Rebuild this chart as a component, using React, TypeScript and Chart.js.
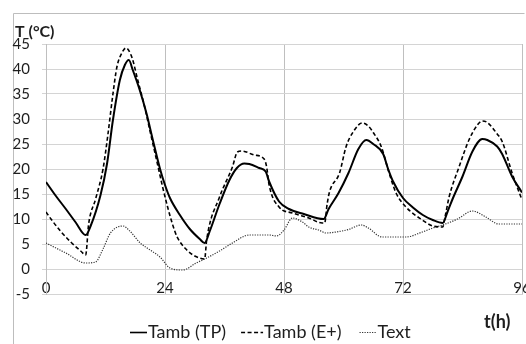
import React, { useEffect, useRef } from "react";
import { Chart, registerables } from "chart.js";

Chart.register(...registerables);

// ---- data ----
const xTickHours = [0, 24, 48, 72, 96];
const yMin = -5;
const yMax = 45;
const yStep = 5;

const tpHours = [0, 2, 4, 6, 8, 9, 11, 12.3, 13.5, 14.9, 15.9, 16.7, 17.5, 18.9, 20.3, 21.5, 23, 24, 25, 27, 29, 31, 32, 33, 35, 37, 38.5, 40, 41, 43, 44.3, 45, 47, 49, 52, 56, 57, 59, 61, 63, 64.6, 66, 68, 69, 70, 72, 74, 76, 78, 80, 81, 82, 84, 86, 88, 89, 91, 92, 94, 96];
const tpValues = [17.4, 14.6, 12.0, 9.3, 6.8, 8.6, 14.8, 21, 29.8, 37.8, 40.8, 41.8, 39.8, 35.8, 31, 26, 20, 16.8, 14.2, 10.8, 8, 6, 5.2, 7.5, 13, 17.8, 20.2, 21.1, 21, 20.2, 19.5, 17.5, 13.5, 12, 11, 10, 12, 15.2, 19.2, 24, 25.8, 25, 23, 20, 17.5, 14.2, 12.3, 10.8, 9.8, 9.2, 11.5, 14, 18.5, 23.5, 26, 25.8, 24.5, 23, 18.5, 15.3];

const epHours = [0, 1, 3, 5, 7, 8, 8.6, 10, 11.5, 12.5, 13.5, 14.3, 15.3, 16.1, 17.3, 18.5, 19.9, 21, 22.3, 23.5, 24.5, 25.5, 26.4, 28.4, 30, 32, 32.4, 35, 37.6, 38.6, 39.5, 42, 44, 44.5, 45, 47, 49.7, 53, 55.7, 56.2, 56.7, 57.2, 59.2, 60.5, 62, 63.8, 65, 66, 67.6, 69.2, 70.6, 72.6, 75.9, 78, 80, 80.5, 81.3, 83.3, 85.3, 87, 88, 89, 91, 92, 94, 96];
const epValues = [11.4, 10, 7.5, 5.4, 3.6, 2.8, 9, 14, 20, 27, 35, 40.4, 43.2, 44.2, 42.4, 37.8, 32.4, 27.5, 21.8, 16.5, 12.5, 9, 6.5, 3.8, 2.6, 2.0, 5.8, 14.4, 20.4, 23.4, 23.6, 22.8, 22, 20.4, 16.8, 12.4, 11.2, 10.2, 9.2, 9.2, 13, 15.5, 19.2, 24.4, 27.5, 29.2, 28.6, 27.3, 24.5, 19.2, 15.2, 12.4, 9.8, 8.6, 8.4, 10.5, 14.4, 20.4, 25.8, 28.8, 29.6, 29.3, 27, 25.5, 19.2, 13.8];

const textHours = [0, 4, 8, 10, 11.5, 13, 15.5, 17, 19, 21, 23, 25, 27.6, 30.3, 32.4, 35, 37.6, 41, 45, 46.5, 48, 49.7, 51.7, 53, 55, 56.5, 58.5, 61, 63.6, 65, 67.8, 72.6, 75.9, 78, 80, 83, 86, 88.7, 91.3, 96];
const textValues = [5.2, 3.2, 1.2, 1.4, 4, 7.2, 8.6, 7.5, 5.2, 3.8, 2.4, 0.2, -0.2, 1.2, 2.2, 3.6, 5.2, 6.8, 6.8, 6.6, 7.8, 10.2, 9.4, 8.4, 7.8, 7.2, 7.4, 7.9, 8.8, 8.2, 6.4, 6.4, 7.4, 8.2, 8.8, 10, 11.6, 10.4, 9, 9];

const seriesLabels = ["Tamb (TP)", "Tamb (E+)", "Text"];
const yTitle = "T (°C)";
const xTitle = "t(h)";

const FONT = "Lato, 'Open Sans', sans-serif";
const TEXT_COLOR = "#1e1e1e";

const toPoints = (xs: number[], ys: number[]) => xs.map((x, i) => ({ x, y: ys[i] }));

const decorPlugin = {
  id: "decor",
  beforeDraw(chart: any) {
    const ctx = chart.ctx;
    ctx.save();
    ctx.fillStyle = "#ffffff";
    ctx.fillRect(0, 0, chart.width, chart.height);
    ctx.strokeStyle = "#bdbdbd";
    ctx.lineWidth = 1;
    ctx.beginPath();
    ctx.moveTo(13.5, chart.height + 2);
    ctx.lineTo(13.5, 13.5);
    ctx.lineTo(chart.width - 1.5, 13.5);
    ctx.stroke();
    ctx.restore();
  },
  afterDraw(chart: any) {
    const ctx = chart.ctx;
    ctx.save();
    ctx.fillStyle = TEXT_COLOR;
    ctx.textBaseline = "alphabetic";
    ctx.textAlign = "left";
    ctx.font = `bold 16px ${FONT}`;
    ctx.fillText(yTitle, 15, 37);
    ctx.font = `bold 18px ${FONT}`;
    ctx.fillText(xTitle, 484, 328);

    // legend
    ctx.font = `18px ${FONT}`;
    let x = 130;
    const ly = 332.5;
    const gaps = [15, 18, 0];
    chart.data.datasets.forEach((ds: any, i: number) => {
      const w = i === 1 ? 22 : 17;
      ctx.save();
      ctx.strokeStyle = ds.borderColor;
      ctx.lineWidth = Math.min(ds.borderWidth, 1.6);
      ctx.setLineDash(ds.borderDash || []);
      ctx.beginPath();
      ctx.moveTo(x, ly);
      ctx.lineTo(x + w, ly);
      ctx.stroke();
      ctx.restore();
      ctx.fillStyle = TEXT_COLOR;
      ctx.fillText(ds.label, x + w + 1, 338);
      x += w + 1 + ctx.measureText(ds.label).width + gaps[i];
    });
    ctx.restore();
  },
};

export default function App() {
  const canvasRef = useRef<HTMLCanvasElement | null>(null);

  useEffect(() => {
    document.body.style.margin = "0";
    const canvas = canvasRef.current;
    if (!canvas) return;
    const chart = new Chart(canvas, {
      type: "line",
      data: {
        datasets: [
          {
            label: seriesLabels[0],
            data: toPoints(tpHours, tpValues),
            borderColor: "#000000",
            borderWidth: 2,
            pointRadius: 0,
            cubicInterpolationMode: "monotone",
            fill: false,
          },
          {
            label: seriesLabels[1],
            data: toPoints(epHours, epValues),
            borderColor: "#000000",
            borderWidth: 1.6,
            borderDash: [4, 2.5],
            pointRadius: 0,
            cubicInterpolationMode: "monotone",
            fill: false,
          },
          {
            label: seriesLabels[2],
            data: toPoints(textHours, textValues),
            borderColor: "#333333",
            borderWidth: 1.2,
            borderDash: [1.2, 1.3],
            pointRadius: 0,
            cubicInterpolationMode: "monotone",
            fill: false,
          },
        ],
      },
      options: {
        responsive: false,
        animation: false,
        events: [],
        layout: { padding: { top: 44, left: 0, right: 4, bottom: 0 } },
        plugins: {
          legend: { display: false },
          tooltip: { enabled: false },
          title: { display: false },
        },
        scales: {
          x: {
            type: "linear",
            min: 0,
            max: 96,
            afterBuildTicks: (scale: any) => {
              scale.ticks = xTickHours.map((v) => ({ value: v }));
            },
            afterFit: (scale: any) => {
              scale.height = 50;
              scale.paddingLeft = 0;
              scale.paddingRight = 0;
            },
            grid: { color: "#bfbfbf", drawTicks: false, lineWidth: 1 },
            border: { display: true, color: "#d4d4d4" },
            ticks: {
              mirror: true,
              padding: -3,
              maxRotation: 0,
              autoSkip: false,
              color: TEXT_COLOR,
              font: { family: FONT, size: 15 },
            },
          },
          y: {
            type: "linear",
            min: yMin,
            max: yMax,
            afterFit: (scale: any) => {
              scale.width = 46;
              scale.paddingTop = 0;
              scale.paddingBottom = 0;
            },
            grid: { color: "#d4d4d4", tickLength: 4, lineWidth: 1 },
            border: { display: true, color: "#bfbfbf" },
            ticks: {
              stepSize: yStep,
              padding: 12,
              color: TEXT_COLOR,
              font: { family: FONT, size: 15 },
            },
          },
        },
      },
      plugins: [decorPlugin],
    } as any);
    return () => chart.destroy();
  }, []);

  return (
    <div style={{ position: "relative", width: 526, height: 344 }}>
      <canvas ref={canvasRef} width={526} height={344} style={{ display: "block" }} />
    </div>
  );
}
